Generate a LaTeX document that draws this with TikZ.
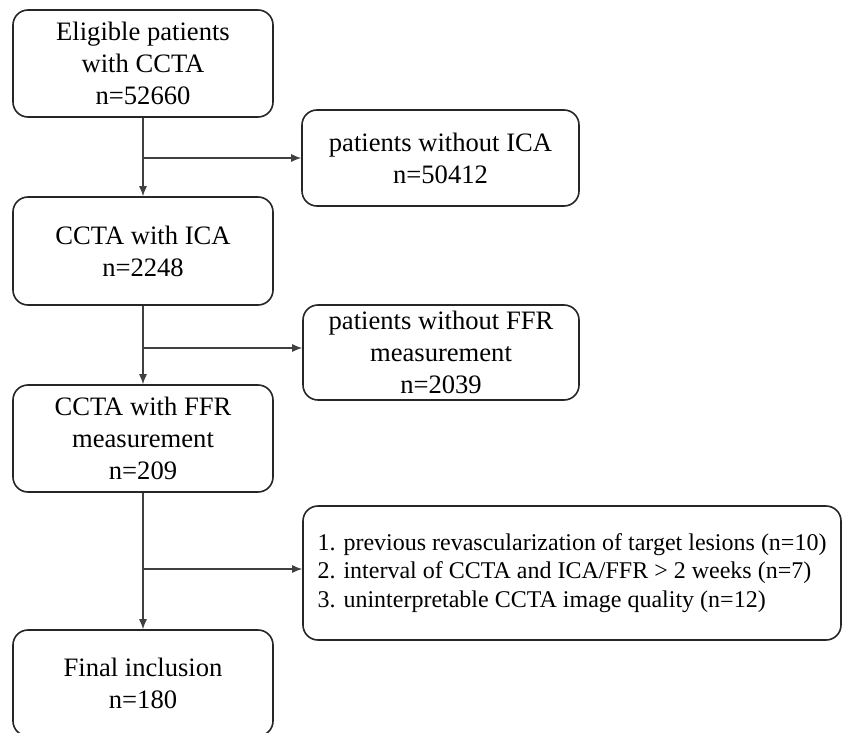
\documentclass[tikz,border=0pt]{standalone}
\usepackage{fontspec}
\setmainfont{Liberation Serif}
\usetikzlibrary{arrows.meta}

\tikzset{
	flowbox/.style = {draw = black!85, line width = 1.6pt, rounded corners = 15pt,
		align = center, inner sep = 2pt, font = \fontsize{26.6}{32}\selectfont},
	flowline/.style = {draw = black!75, line width = 1.2pt},
}

\begin{document}
\begin{tikzpicture}[x = 1pt, y = -1pt, >={Latex[length=10pt, width=8pt]}]
	\useasboundingbox (0,0) rectangle (843,733);
	
	% main column
	\node[flowbox, minimum width = 260pt, minimum height = 107pt] (elig) at (143, 63.5) {Eligible patients\\with CCTA\\n=52660};
	\node[flowbox, minimum width = 260pt, minimum height = 108pt] (ica) at (143, 251) {CCTA with ICA\\n=2248};
	\node[flowbox, minimum width = 260pt, minimum height = 107pt] (ffr) at (143, 438.5) {CCTA with FFR\\measurement\\n=209};
	\node[flowbox, minimum width = 260pt, minimum height = 106pt] (final) at (143, 683) {Final inclusion\\n=180};
	
	% exclusions
	\node[flowbox, minimum width = 277pt, minimum height = 96pt] (noica) at (440.5, 158) {patients without ICA\\n=50412};
	\node[flowbox, minimum width = 276pt, minimum height = 95pt] (noffr) at (441, 352.5) {patients without FFR\\measurement\\n=2039};
	\node[flowbox, minimum width = 538pt, minimum height = 134pt, align = left, font = \fontsize{24}{28.5}\selectfont] (excl) at (572, 573) {1. previous revascularization of target lesions (n=10)\\2. interval of CCTA and ICA/FFR > 2 weeks (n=7)\\3. uninterpretable CCTA image quality (n=12)};
	
	% branch points
	\coordinate (j1) at (143, 158);
	\coordinate (j2) at (143, 348);
	\coordinate (j3) at (143, 569);
	
	\draw[flowline, ->] (elig.south) -- (ica.north);
	\draw[flowline, ->] (ica.south) -- (ffr.north);
	\draw[flowline, ->] (ffr.south) -- (final.north);
	
	\draw[flowline, ->] (j1) -- (j1 -| noica.west);
	\draw[flowline, ->] (j2) -- (j2 -| noffr.west);
	\draw[flowline, ->] (j3) -- (j3 -| excl.west);
	
\end{tikzpicture}
\end{document}
